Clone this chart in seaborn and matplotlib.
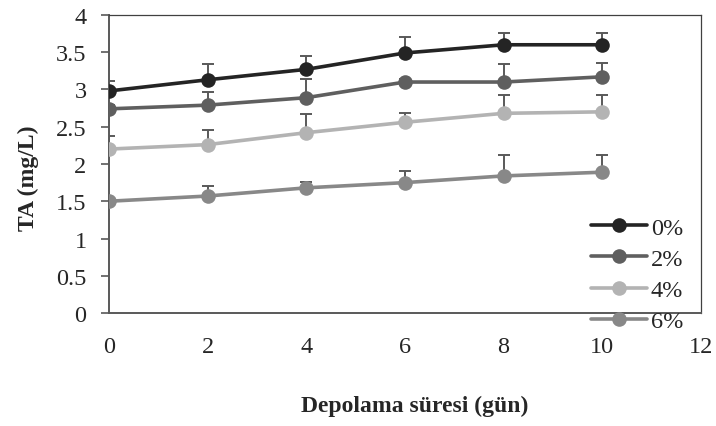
import matplotlib
matplotlib.use("Agg")
import matplotlib.pyplot as plt
import seaborn as sns
import pandas as pd
import numpy as np
from matplotlib.lines import Line2D

days = [0, 2, 4, 6, 8, 10]
groups = ["0%", "2%", "4%", "6%"]
ta_0 = [2.98, 3.13, 3.27, 3.49, 3.60, 3.60]
ta_2 = [2.74, 2.79, 2.89, 3.10, 3.10, 3.17]
ta_4 = [2.20, 2.26, 2.42, 2.56, 2.68, 2.70]
ta_6 = [1.50, 1.57, 1.68, 1.75, 1.84, 1.89]
err_0 = [0.14, 0.21, 0.18, 0.21, 0.16, 0.16]
err_2 = [0.05, 0.18, 0.25, 0.04, 0.24, 0.18]
err_4 = [0.17, 0.20, 0.25, 0.13, 0.25, 0.23]
err_6 = [0.03, 0.13, 0.08, 0.16, 0.28, 0.23]
colors = ["#242424", "#5f5f5f", "#b3b3b3", "#888888"]

values = [ta_0, ta_2, ta_4, ta_6]
errors = [err_0, err_2, err_4, err_6]

rows = []
for g, vals in zip(groups, values):
    for d, v in zip(days, vals):
        rows.append({"day": d, "TA": v, "group": g})
df = pd.DataFrame(rows)

sns.set_style("white")
plt.rcParams["font.family"] = ["Liberation Serif", "DejaVu Serif"]

fig = plt.figure(figsize=(7.16, 4.27), dpi=100)
ax = fig.add_axes([0.152, 0.2646, 0.827, 0.698])

for g, vals, errs in zip(groups, values, errors):
    ax.errorbar(days, vals, yerr=[np.zeros(len(errs)), errs], fmt="none",
                ecolor="#595959", elinewidth=1.4, capsize=4.3, capthick=1.4, zorder=1)

sns.lineplot(data=df, x="day", y="TA", hue="group", palette=colors,
             marker="o", markersize=10.5, markeredgewidth=0, linewidth=2.6,
             ax=ax, legend=False, zorder=3)

ax.set_xlim(0, 12)
ax.set_ylim(0, 4)
ax.set_xticks(range(0, 13, 2))
ax.set_yticks([0, 0.5, 1, 1.5, 2, 2.5, 3, 3.5, 4])
ax.set_yticklabels(["0", "0.5", "1", "1.5", "2", "2.5", "3", "3.5", "4"])
ax.tick_params(axis="y", direction="out", length=6, width=1.2, color="#595959",
               labelsize=17.5, pad=10, left=True)
ax.tick_params(axis="x", length=0, labelsize=17.5, pad=16.5)

for side in ["left", "bottom"]:
    ax.spines[side].set_color("#595959")
    ax.spines[side].set_linewidth(1.4)
for side in ["top", "right"]:
    ax.spines[side].set_color("#404040")
    ax.spines[side].set_linewidth(0.9)

ax.set_xlabel("Depolama süresi (gün)", fontsize=17, fontweight="bold")
ax.xaxis.set_label_coords(0.517, -0.275)
ax.set_ylabel("TA (mg/L)", fontsize=17, fontweight="bold")
ax.yaxis.set_label_coords(-0.118, 0.456)

handles = [Line2D([0], [0], color=c, lw=2.6, marker="o", markersize=10.5, markeredgewidth=0)
           for c in colors]
leg = fig.legend(handles, groups, loc="center", bbox_to_anchor=(0.890, 0.355),
                 bbox_transform=fig.transFigure, frameon=False, fontsize=17.5,
                 handlelength=2.3, handletextpad=0.15, labelspacing=0.38)

fig.savefig("out.png", dpi=100)
